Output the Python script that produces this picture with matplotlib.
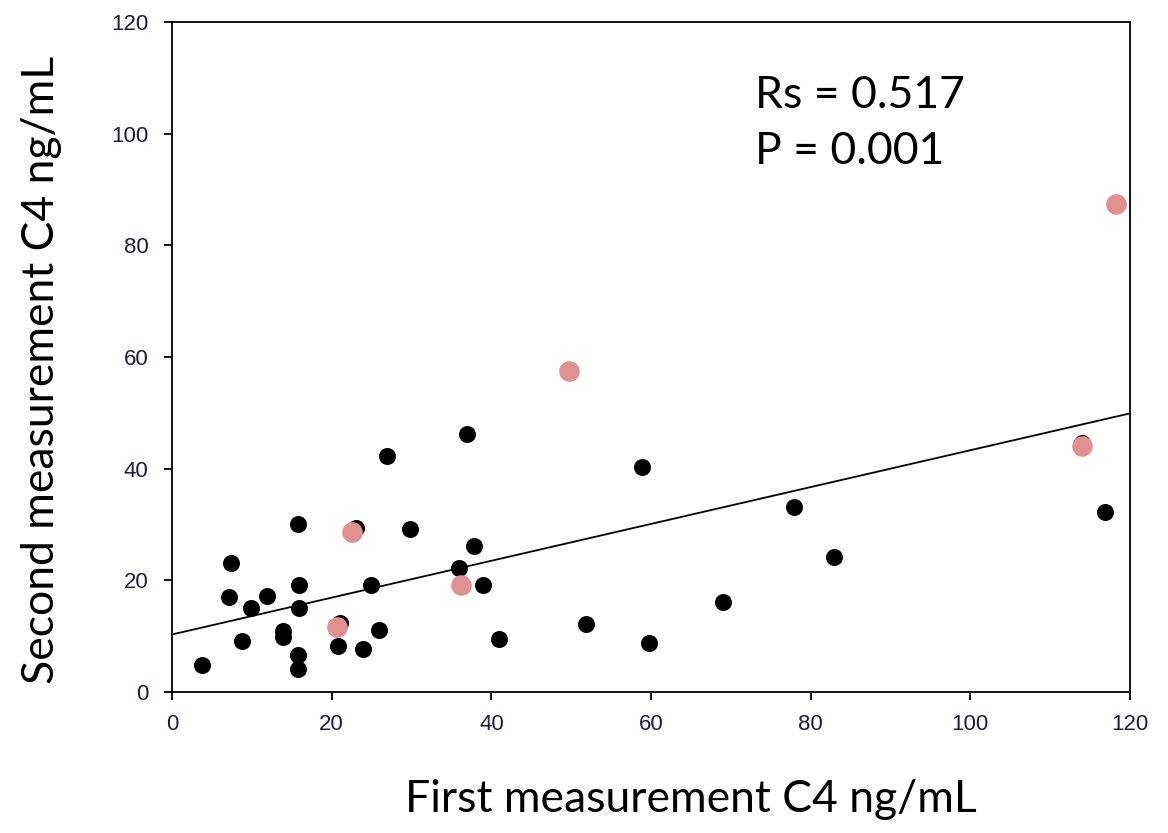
import matplotlib
matplotlib.use("Agg")
import matplotlib.pyplot as plt
import numpy as np

# Black points (all subjects)
black_x = [3.7, 7.4, 7.1, 8.7, 9.9, 11.9, 13.9, 13.9, 15.8, 15.9, 15.9, 15.8, 15.8,
           20.8, 21.0, 23.0, 23.9, 24.9, 25.9, 26.9, 29.8, 36.9, 36.0, 37.8, 38.9,
           40.9, 51.8, 58.9, 59.8, 69.0, 77.9, 82.9, 114.0, 116.9]
black_y = [4.9, 23.1, 17.1, 9.2, 15.1, 17.2, 11.0, 9.9, 30.1, 19.2, 15.1, 6.6, 4.2,
           8.2, 12.3, 29.3, 7.7, 19.2, 11.1, 42.3, 29.2, 46.2, 22.2, 26.2, 19.2,
           9.5, 12.2, 40.3, 8.8, 16.2, 33.2, 24.2, 44.6, 32.3]

# Highlighted points (pink)
pink_x = [20.6, 22.6, 36.2, 49.7, 114.0, 118.2]
pink_y = [11.6, 28.7, 19.1, 57.5, 44.0, 87.4]

# Regression line
fit_intercept = 10.3
fit_slope = 0.33

x_ticks = [0, 20, 40, 60, 80, 100, 120]
y_ticks = [0, 20, 40, 60, 80, 100, 120]

fig = plt.figure(figsize=(11.68, 8.33), dpi=100)
ax = fig.add_axes([0.1473, 0.1693, 0.8202, 0.8043])

ax.scatter(black_x, black_y, s=150, color="black", zorder=3, linewidths=0)
ax.scatter(pink_x, pink_y, s=220, color="#e0918f", zorder=4, linewidths=0)

xl = np.array([0, 120])
ax.plot(xl, fit_intercept + fit_slope * xl, color="black", lw=1.3, zorder=2)

ax.set_xlim(0, 120)
ax.set_ylim(0, 120)
ax.set_xticks(x_ticks)
ax.set_yticks(y_ticks)
ax.tick_params(direction="out", length=6, width=1.3, labelsize=16,
               labelcolor="#1c1c44", top=False, right=False)
ax.tick_params(axis="x", pad=10)
ax.tick_params(axis="y", pad=11)
for t in ax.get_xticklabels() + ax.get_yticklabels():
    t.set_fontfamily("Liberation Sans")
for sp in ax.spines.values():
    sp.set_linewidth(1.3)

fig.text(691 / 1168, 1 - 800 / 833, "First measurement C4 ng/mL",
         fontsize=32, family="Lato", ha="center", va="center")
fig.text(42 / 1168, 1 - 370 / 833, "Second measurement C4 ng/mL",
         fontsize=32, family="Lato", ha="center", va="center", rotation=90)

ax.text(0.608, 0.89, "Rs = 0.517", transform=ax.transAxes,
        fontsize=32, family="Lato", va="center", ha="left")
ax.text(0.608, 0.807, "P = 0.001", transform=ax.transAxes,
        fontsize=32, family="Lato", va="center", ha="left")

fig.savefig("out.png", dpi=100, facecolor="white")
